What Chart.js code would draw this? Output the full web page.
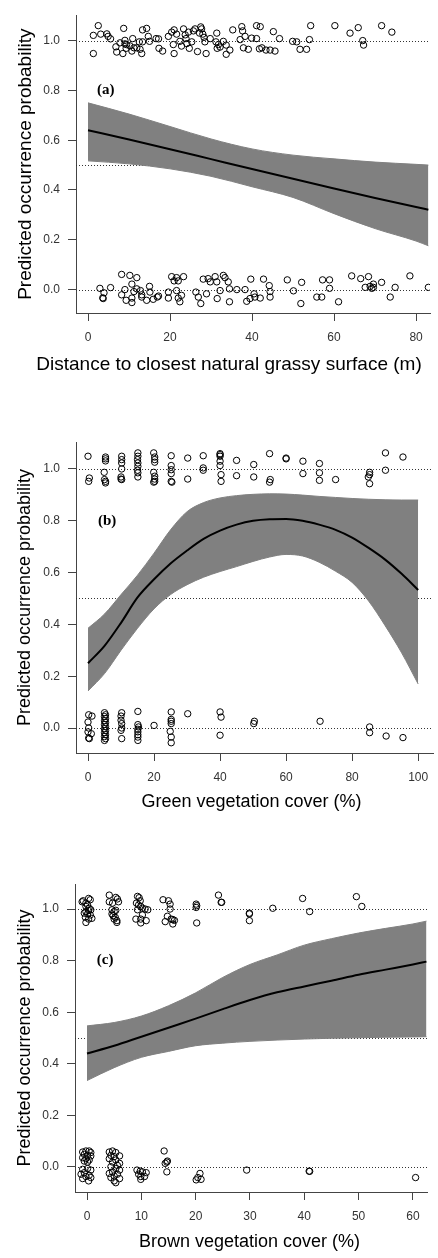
<!DOCTYPE html>
<html>
<head>
<meta charset="utf-8">
<script src="https://cdn.jsdelivr.net/npm/chart.js@4.4.1/dist/chart.umd.min.js"></script>
<style>
  body { margin: 0; background: #fff; width: 438px; height: 1258px; position: relative; overflow: hidden; }
  canvas { position: absolute; left: 0; }
</style>
</head>
<body>
<canvas id="panelA" width="438" height="380" style="top:0px"></canvas>
<canvas id="panelB" width="438" height="393" style="top:420px"></canvas>
<canvas id="panelC" width="438" height="396" style="top:860px"></canvas>
<script>
// ---- shared ----
const probTicks = [0, 0.2, 0.4, 0.6, 0.8, 1.0];
const refLevels = [0, 0.5, 1];

// ---- (a) distance to grassy surface ----
const aTicksX = [0, 20, 40, 60, 80];
const aGridX = [0, 10, 20, 30, 40, 50, 60, 70, 80, 83];
const aFit   = [0.64, 0.603, 0.564, 0.524, 0.484, 0.445, 0.406, 0.368, 0.332, 0.321];
const aUpper = [0.75, 0.705, 0.655, 0.605, 0.565, 0.54, 0.525, 0.512, 0.503, 0.50];
const aLower = [0.517, 0.505, 0.485, 0.455, 0.413, 0.37, 0.305, 0.245, 0.195, 0.176];
const aPresX = [
  1.3, 1.3, 2.5, 3.1, 4.6, 4.9, 5.5, 6.8, 7.0, 7.8,
  8.5, 8.7, 9.0, 9.0, 9.3, 9.4, 10.2, 10.7, 10.9, 11.2,
  11.9, 12.5, 12.7, 13.1, 13.3, 13.3, 14.3, 14.7, 15.0, 16.6,
  17.2, 17.3, 18.2, 19.6, 20.4, 20.8, 21.0, 21.6, 21.0, 22.4,
  22.8, 23.3, 23.7, 23.9, 24.1, 24.5, 24.7, 25.3, 25.7, 26.1,
  26.7, 27.2, 27.5, 27.7, 28.0, 28.3, 28.5, 28.8, 29.8, 31.2,
  31.4, 31.5, 31.8, 32.2, 33.0, 33.7, 33.7, 34.6, 35.3, 37.1,
  37.5, 37.7, 37.9, 38.3, 39.1, 39.9, 41.1, 41.1, 42.0, 41.8,
  42.4, 43.4, 44.4, 45.2, 45.6, 46.7, 49.9, 50.9, 51.7, 53.3,
  54.0, 54.3, 60.2, 63.9, 65.9, 67.0, 67.2, 71.6, 74.1
];
const aPresY = [
  1.021, 0.948, 1.060, 1.026, 1.027, 1.017, 1.007, 0.975, 0.954, 0.991,
  0.948, 1.049, 1.001, 0.987, 0.969, 0.984, 0.979, 0.958, 1.008, 0.971,
  0.971, 0.995, 0.965, 0.948, 1.043, 0.995, 1.049, 1.017, 0.997, 1.008,
  1.007, 0.969, 0.958, 1.017, 1.034, 0.984, 1.043, 1.026, 0.948, 0.997,
  0.978, 1.047, 1.023, 1.008, 0.988, 1.034, 0.969, 0.995, 1.039, 1.047,
  0.956, 1.030, 1.055, 1.047, 1.026, 1.013, 0.995, 0.948, 1.008, 0.995,
  1.030, 0.969, 0.984, 0.974, 0.997, 0.982, 0.945, 0.962, 1.043, 1.004,
  1.056, 1.039, 0.971, 1.017, 0.965, 1.010, 1.008, 1.060, 1.056, 0.967,
  0.971, 0.962, 0.962, 1.036, 0.958, 1.008, 0.997, 0.995, 0.965, 0.965,
  1.004, 1.060, 1.060, 1.030, 1.052, 1.000, 0.982, 1.060, 1.034
];
const aAbsX = [
  2.9, 3.9, 3.6, 3.7, 5.5, 8.2, 8.2, 9.0, 9.3, 10.2,
  10.7, 10.7, 10.7, 11.2, 11.9, 11.9, 12.8, 13.1, 13.1, 14.3,
  15.0, 15.1, 15.9, 16.9, 17.2, 19.6, 19.6, 20.4, 21.0, 21.6,
  22.0, 23.3, 21.6, 22.0, 22.4, 22.8, 26.3, 26.9, 27.5, 28.1,
  28.9, 29.3, 29.8, 31.0, 31.4, 31.5, 32.2, 33.0, 33.4, 34.2,
  34.5, 34.5, 36.3, 38.3, 38.7, 39.5, 39.7, 40.5, 40.7, 42.0,
  42.8, 44.2, 44.4, 44.4, 48.6, 50.1, 51.9, 52.1, 55.8, 57.0,
  57.2, 58.9, 58.9, 61.1, 64.3, 66.5, 67.6, 68.4, 68.8, 69.2,
  69.6, 69.6, 71.6, 73.7, 74.9, 78.5, 83.0
];
const aAbsY = [
  0.005, -0.013, -0.033, -0.036, 0.008, 0.061, -0.021, 0.0, -0.043, 0.057,
  0.022, -0.034, -0.052, -0.008, 0.048, 0.003, -0.004, -0.021, -0.030, -0.043,
  0.013, -0.010, -0.039, -0.030, -0.026, -0.010, -0.034, 0.052, 0.035, 0.048,
  0.035, 0.052, -0.004, -0.034, -0.049, -0.023, -0.010, -0.030, -0.056, 0.042,
  -0.017, 0.044, 0.031, 0.052, 0.031, -0.036, -0.004, 0.057, 0.048, 0.031,
  0.003, -0.049, 0.0, 0.0, -0.047, -0.036, 0.042, -0.017, -0.030, -0.034,
  0.042, 0.016, -0.008, -0.030, 0.039, -0.005, -0.056, 0.029, -0.030, -0.030,
  0.039, 0.039, 0.005, -0.049, 0.055, 0.044, 0.009, 0.052, 0.013, 0.005,
  0.022, 0.009, 0.029, -0.030, 0.009, 0.055, 0.009
];

// ---- (b) green vegetation cover ----
const bTicksX = [0, 20, 40, 60, 80, 100];
const bGridX = [0, 5, 10, 15, 20, 25, 30, 35, 40, 45, 50, 55, 60, 65, 70, 75, 80, 85, 90, 95, 100];
const bFit   = [0.25, 0.317, 0.406, 0.504, 0.574, 0.635, 0.685, 0.73, 0.762, 0.785, 0.8, 0.806, 0.807, 0.80, 0.785, 0.765, 0.735, 0.695, 0.65, 0.595, 0.533];
const bUpper = [0.385, 0.44, 0.515, 0.59, 0.675, 0.765, 0.835, 0.87, 0.888, 0.897, 0.902, 0.904, 0.903, 0.899, 0.894, 0.89, 0.886, 0.883, 0.881, 0.88, 0.88];
const bLower = [0.143, 0.21, 0.30, 0.385, 0.46, 0.515, 0.553, 0.582, 0.604, 0.623, 0.643, 0.66, 0.67, 0.664, 0.64, 0.605, 0.562, 0.49, 0.395, 0.29, 0.17];
const bPresX = [
  0.0, 0.4, 0.2,
  5.3, 5.3, 5.3, 4.9, 5.0, 5.3, 5.3,
  10.2, 10.2, 10.2, 10.2, 10.0, 10.0, 10.2,
  15.1, 15.1, 15.0, 15.1, 15.1, 15.0, 15.1, 15.1,
  19.9, 20.2, 20.2, 20.2, 19.9, 20.2, 20.2, 20.2, 19.9,
  25.2, 25.2, 25.2, 25.2, 25.2, 25.4,
  30.2, 30.2,
  34.9, 34.9, 34.9,
  40.0, 40.0, 40.0, 40.0, 40.0, 40.3, 40.3,
  45.0, 45.0,
  50.2, 50.2,
  55.0, 55.2, 55.0,
  60.0, 60.0,
  65.1, 65.1,
  70.1, 70.1, 70.1,
  75.0,
  85.3, 85.3, 84.9, 85.3,
  90.1, 90.1,
  95.4
];
const bPresY = [
  1.049, 0.965, 0.952,
  1.046, 1.039, 1.031, 0.987, 0.959, 0.952, 0.946,
  1.049, 1.036, 1.023, 1.000, 0.969, 0.961, 0.959,
  1.062, 1.049, 1.036, 1.023, 1.010, 0.995, 0.985, 0.969,
  1.062, 1.046, 1.036, 1.026, 0.987, 0.972, 0.961, 0.952, 0.949,
  1.051, 1.013, 0.997, 0.982, 0.952, 0.949,
  1.042, 0.961,
  1.051, 1.004, 0.995,
  1.059, 1.055, 1.049, 1.030, 1.013, 0.978, 0.952,
  1.033, 0.974,
  1.017, 0.969,
  1.059, 0.959, 0.949,
  1.042, 1.039,
  1.030, 0.982,
  1.021, 0.985, 0.956,
  0.959,
  0.987, 0.978, 0.969, 0.943,
  1.062, 0.995,
  1.046
];
const bAbsX = [
  0.2, 1.2, 0.0, 0.2, 0.0, 1.0, 0.2, 0.4,
  5.0, 5.3, 5.0, 5.3, 5.0, 5.3, 5.0, 5.3, 5.0, 5.3, 5.0, 5.3, 5.0, 5.3, 5.0,
  10.2, 10.0, 10.0, 10.2, 10.2, 10.0, 10.2,
  15.1, 15.1, 15.3, 15.1, 15.1, 15.1, 15.1, 15.1,
  20.0,
  25.2, 25.2, 25.2, 25.2, 24.9, 25.2, 25.2,
  30.2,
  40.0, 40.3, 40.0,
  50.4, 50.2,
  70.3,
  85.3, 85.3,
  90.3,
  95.4
];
const bAbsY = [
  0.051, 0.046, 0.023, 0.0, -0.015, -0.022, -0.039, -0.041,
  0.059, 0.051, 0.044, 0.036, 0.028, 0.021, 0.013, 0.005, -0.003, -0.010, -0.018, -0.026, -0.033, -0.041, -0.048,
  0.059, 0.046, 0.030, 0.017, 0.0, -0.009, -0.041,
  0.064, 0.013, 0.004, -0.005, -0.015, -0.026, -0.035, -0.048,
  0.010,
  0.062, 0.033, 0.026, 0.017, -0.013, -0.035, -0.057,
  0.055,
  0.062, 0.042, -0.028,
  0.026, 0.017,
  0.026,
  0.004, -0.018,
  -0.031,
  -0.037
];

// ---- (c) brown vegetation cover ----
const cTicksX = [0, 10, 20, 30, 40, 50, 60];
const cGridX = [0, 5, 10, 15, 20, 25, 30, 35, 40, 45, 50, 55, 60, 62.5];
const cFit   = [0.44, 0.47, 0.505, 0.54, 0.575, 0.612, 0.647, 0.677, 0.70, 0.722, 0.745, 0.765, 0.785, 0.796];
const cUpper = [0.547, 0.56, 0.585, 0.625, 0.675, 0.735, 0.785, 0.822, 0.86, 0.885, 0.907, 0.925, 0.942, 0.953];
const cLower = [0.335, 0.385, 0.425, 0.448, 0.47, 0.48, 0.487, 0.492, 0.496, 0.499, 0.501, 0.503, 0.504, 0.505];
const cPresX = [
  -0.9, -0.7, -0.2, 0.3, 0.6, 0.1, -0.2, 0.4, 0.7, 0.3, -0.2, -0.5, 0.1, 0.6, -0.3, 0.9, 0.3, -0.2,
  4.1, 5.3, 5.6, 4.1, 4.7, 5.8, 4.6, 5.0, 5.3, 4.6, 4.8, 5.2, 5.0, 5.5, 5.5,
  9.3, 9.6, 9.8, 9.1, 9.5, 9.9, 10.2, 10.7, 11.2, 9.3, 10.2, 9.0, 9.9, 10.9, 9.9,
  14.0, 15.0, 15.3, 15.3, 14.8, 15.5, 15.8, 16.1, 14.4, 15.8,
  20.1, 20.2, 20.1, 20.2,
  24.2, 24.7, 24.8,
  29.9, 29.9, 29.9,
  34.2,
  39.7, 41.0,
  49.6, 50.6
];
const cPresY = [
  1.028, 1.032, 1.023, 1.041, 1.036, 1.016, 1.010, 1.003, 0.997, 0.994, 0.990, 0.984, 0.981, 0.977, 0.968, 0.964, 0.961, 0.948,
  1.054, 1.045, 1.039, 1.028, 1.023, 1.028, 0.997, 0.990, 0.995, 0.981, 0.974, 0.968, 0.961, 0.955, 0.948,
  1.049, 1.044, 1.032, 1.023, 1.016, 1.010, 1.003, 1.000, 0.997, 0.997, 0.977, 0.961, 0.961, 0.955, 0.946,
  1.036, 1.032, 1.019, 1.000, 0.972, 0.961, 0.959, 0.956, 0.951, 0.942,
  1.019, 1.013, 1.006, 0.946,
  1.054, 1.026, 1.026,
  0.984, 0.981, 0.955,
  1.003,
  1.041, 0.990,
  1.048, 1.010
];
const cAbsX = [
  -0.8, -0.2, 0.4, 0.7, -0.5, 0.1, 0.7, -0.8, -0.2, 0.4, 0.1, -0.5,
  -0.8, 0.1, 0.7, -0.5, -1.1, 0.4, -0.2, -0.8, 0.7, 0.3,
  4.1, 4.7, 5.3, 4.4, 5.0, 6.0, 4.1, 5.3, 4.7, 6.0, 5.6,
  4.4, 5.3, 6.0, 4.7, 4.1, 5.6, 5.0, 4.4, 6.0, 5.0, 5.3,
  9.2, 9.8, 10.2, 10.9, 9.5, 9.9, 10.6, 9.9,
  14.2, 14.8, 14.7, 14.4, 14.7,
  20.8, 20.4, 21.0, 20.1,
  29.4,
  40.9, 41.0,
  60.5
];
const cAbsY = [
  0.058, 0.062, 0.062, 0.056, 0.049, 0.045, 0.043, 0.036, 0.032, 0.027, 0.019, 0.023,
  -0.009, -0.006, -0.012, -0.022, -0.028, -0.032, -0.037, -0.045, -0.041, -0.054,
  0.058, 0.062, 0.056, 0.045, 0.040, 0.043, 0.032, 0.027, 0.019, 0.014, 0.006,
  0.001, -0.006, -0.012, -0.019, -0.025, -0.028, -0.035, -0.041, -0.045, -0.054, -0.061,
  -0.012, -0.016, -0.019, -0.022, -0.028, -0.037, -0.037, -0.048,
  0.062, 0.023, 0.019, 0.014, -0.019,
  -0.025, -0.041, -0.048, -0.050,
  -0.012,
  -0.016, -0.017,
  -0.041
];

// ---- drawing ----
const SANS = "'Liberation Sans', Arial, sans-serif";
const AXIS = '#444';
const BAND = '#808080';

const pairs = (xs, ys) => xs.map((x, i) => ({ x: x, y: ys[i] }));

// dotted guide lines at 0, 0.5 and 1, under the band
const refLines = {
  id: 'refLines',
  beforeDatasetsDraw(chart) {
    const { ctx, chartArea: a, scales: { y } } = chart;
    ctx.save();
    ctx.strokeStyle = '#333';
    ctx.lineWidth = 1;
    ctx.setLineDash([1, 2]);
    refLevels.forEach(v => {
      const py = Math.round(y.getPixelForValue(v)) + 0.5;
      ctx.beginPath();
      ctx.moveTo(a.left, py);
      ctx.lineTo(a.right, py);
      ctx.stroke();
    });
    ctx.restore();
  }
};

// bold panel letter, placed in data units
const panelTag = {
  id: 'panelTag',
  afterDatasetsDraw(chart, args, opts) {
    const { ctx, scales: { x, y } } = chart;
    ctx.save();
    ctx.font = "bold 15px 'Liberation Serif', 'Times New Roman', serif";
    ctx.fillStyle = '#000';
    ctx.textAlign = 'left';
    ctx.textBaseline = 'middle';
    ctx.fillText(opts.text, x.getPixelForValue(opts.x), y.getPixelForValue(opts.y));
    ctx.restore();
  }
};

// x-axis caption under the tick labels, nudged sideways per panel
const xCaption = {
  id: 'xCaption',
  afterDraw(chart, args, opts) {
    const { ctx, chartArea: a } = chart;
    ctx.save();
    ctx.font = opts.size + 'px ' + SANS;
    ctx.fillStyle = '#000';
    ctx.textAlign = 'center';
    ctx.textBaseline = 'middle';
    ctx.fillText(opts.text, (a.left + a.right) / 2 + opts.shift, a.bottom + opts.gap);
    ctx.restore();
  }
};

function makePanel(id, p) {
  const canvas = document.getElementById(id);
  const H = canvas.height;
  const circles = {
    showLine: false, pointStyle: 'circle', pointRadius: 3.2, borderWidth: 1,
    borderColor: '#000', backgroundColor: 'rgba(0,0,0,0)'
  };
  const curve = { showLine: true, pointRadius: 0, cubicInterpolationMode: 'monotone' };

  new Chart(canvas.getContext('2d'), {
    type: 'scatter',
    data: {
      datasets: [
        Object.assign({ data: pairs(p.presX, p.presY) }, circles),
        Object.assign({ data: pairs(p.absX, p.absY) }, circles),
        Object.assign({ data: pairs(p.gridX, p.fit), borderColor: '#000', borderWidth: 2, fill: false }, curve),
        Object.assign({ data: pairs(p.gridX, p.upper), borderColor: BAND, borderWidth: 1, backgroundColor: BAND, fill: '+1' }, curve),
        Object.assign({ data: pairs(p.gridX, p.lower), borderColor: BAND, borderWidth: 1, fill: false }, curve)
      ]
    },
    options: {
      responsive: false,
      animation: false,
      devicePixelRatio: 1,
      layout: { padding: { top: p.area.top, right: canvas.width - p.area.right, left: 0, bottom: 0 } },
      plugins: {
        legend: { display: false },
        tooltip: { enabled: false },
        panelTag: { text: p.tag, x: p.tagX, y: 0.8 },
        xCaption: { text: p.xTitle, size: p.titleSize, shift: p.titleShift, gap: p.titleGap }
      },
      scales: {
        x: {
          type: 'linear',
          bounds: 'data',
          min: p.xMin, max: p.xMax,
          afterBuildTicks: s => { s.ticks = p.ticksX.map(v => ({ value: v })); },
          afterFit: s => { s.height = H - p.area.bottom; },
          grid: { drawOnChartArea: false, drawTicks: true, tickLength: 8, color: AXIS },
          border: { display: true, color: AXIS, width: 1 },
          ticks: { color: '#333', font: { family: SANS, size: 12 }, padding: 9, maxRotation: 0, autoSkip: false }
        },
        y: {
          type: 'linear',
          bounds: 'data',
          min: p.yMin, max: p.yMax,
          afterBuildTicks: s => { s.ticks = probTicks.map(v => ({ value: v })); },
          afterFit: s => { s.width = p.area.left; },
          grid: { drawOnChartArea: false, drawTicks: true, tickLength: 8, color: AXIS },
          border: { display: true, color: AXIS, width: 1 },
          ticks: { color: '#333', font: { family: SANS, size: 12 }, padding: 8, callback: v => v.toFixed(1) },
          title: { display: true, text: 'Predicted occurrence probability', color: '#000', font: { family: SANS, size: p.titleSize }, padding: { top: 14, bottom: 0 } }
        }
      }
    },
    plugins: [refLines, panelTag, xCaption]
  });
}

makePanel('panelA', {
  gridX: aGridX, fit: aFit, upper: aUpper, lower: aLower,
  presX: aPresX, presY: aPresY, absX: aAbsX, absY: aAbsY,
  ticksX: aTicksX, xMin: -2.93, xMax: 83.4, yMin: -0.094, yMax: 1.102,
  xTitle: 'Distance to closest natural grassy surface (m)',
  titleSize: 19, titleShift: -24, titleGap: 52,
  tag: '(a)', tagX: 2.2,
  area: { top: 7, left: 76, right: 430, bottom: 313 }
});

makePanel('panelB', {
  gridX: bGridX, fit: bFit, upper: bUpper, lower: bLower,
  presX: bPresX, presY: bPresY, absX: bAbsX, absY: bAbsY,
  ticksX: bTicksX, xMin: -3.64, xMax: 104.5, yMin: -0.0965, yMax: 1.104,
  xTitle: 'Green vegetation cover (%)',
  titleSize: 18, titleShift: -3, titleGap: 49,
  tag: '(b)', tagX: 3.0,
  area: { top: 22, left: 76, right: 433, bottom: 333 }
});

makePanel('panelC', {
  gridX: cGridX, fit: cFit, upper: cUpper, lower: cLower,
  presX: cPresX, presY: cPresY, absX: cAbsX, absY: cAbsY,
  ticksX: cTicksX, xMin: -2.21, xMax: 62.6, yMin: -0.097, yMax: 1.097,
  xTitle: 'Brown vegetation cover (%)',
  titleSize: 18, titleShift: -1.5, titleGap: 50,
  tag: '(c)', tagX: 1.8,
  area: { top: 24, left: 75, right: 427, bottom: 332 }
});
</script>
</body>
</html>
